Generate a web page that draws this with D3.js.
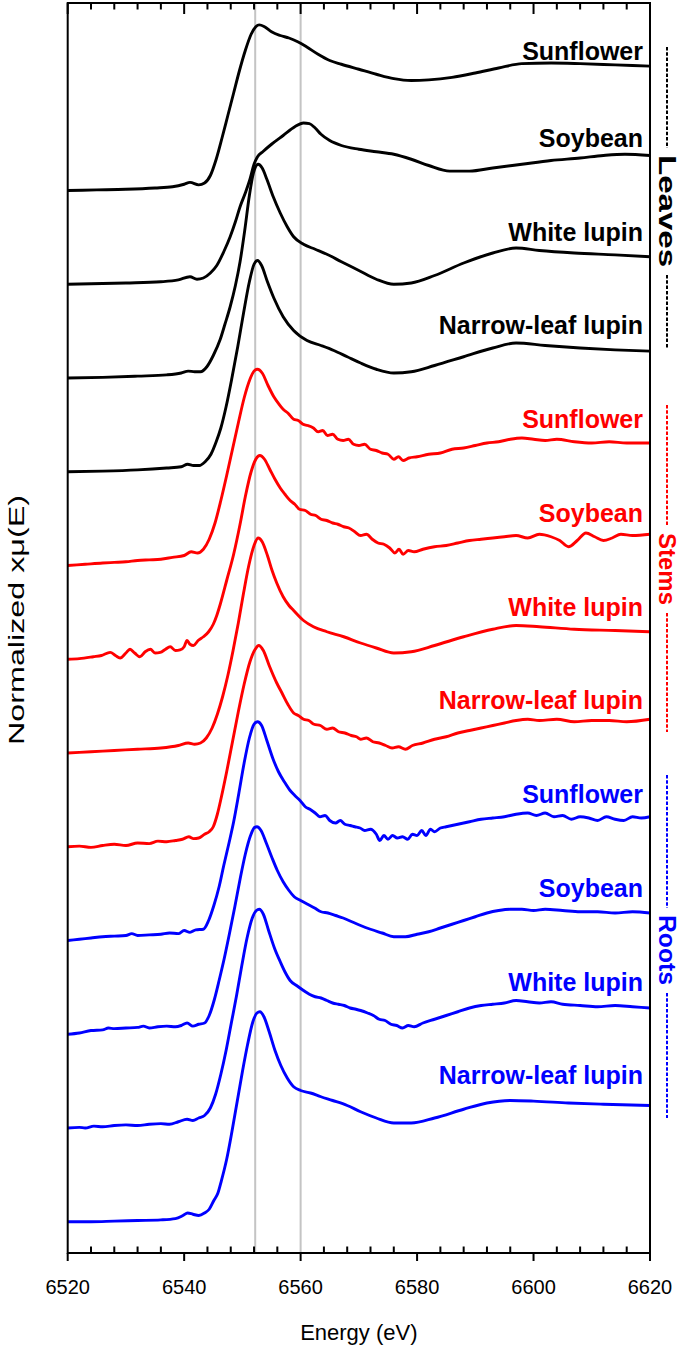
<!DOCTYPE html>
<html><head><meta charset="utf-8">
<script src="https://cdn.jsdelivr.net/npm/d3@7"></script>
<style>body{margin:0;background:#fff}svg{display:block}</style>
</head><body>
<svg id="c" width="681" height="1350"></svg>
<script>
// ---- data ----
const seriesNames = ["Sunflower","Soybean","White lupin","Narrow-leaf lupin",
                     "Sunflower","Soybean","White lupin","Narrow-leaf lupin",
                     "Sunflower","Soybean","White lupin","Narrow-leaf lupin"];
const groupNames = ["Leaves","Stems","Roots"];
const xTickValues = [6520,6540,6560,6580,6600,6620];
const refLines = [6552.2, 6560];

const sunflowerLeaves = [[6520,0],[6525,0.005],[6530,0.01],[6535,0.02],[6538,0.03],[6540,0.05],[6541,0.065],[6542.5,0.045],[6543.5,0.06],[6544.5,0.12],[6545.5,0.25],[6546.5,0.42],[6547.5,0.6],[6548.5,0.78],[6549.5,0.96],[6550.5,1.12],[6551.5,1.25],[6552.3,1.31],[6552.9,1.325],[6553.8,1.31],[6555,1.27],[6556.5,1.24],[6558,1.22],[6559.5,1.19],[6561,1.15],[6563,1.09],[6565,1.04],[6567,1.01],[6570,0.97],[6573,0.93],[6576,0.895],[6579,0.88],[6582,0.885],[6586,0.905],[6590,0.94],[6594,0.98],[6598,1.015],[6603,1.02],[6608,1.015],[6614,1.005],[6620,0.995]];
const soybeanLeaves = [[6520,0],[6530,0.01],[6536,0.02],[6539,0.035],[6541,0.06],[6542.2,0.04],[6543.3,0.05],[6544.5,0.09],[6545.6,0.15],[6546.8,0.26],[6547.9,0.38],[6548.8,0.5],[6549.6,0.62],[6550.5,0.73],[6551.3,0.84],[6552,0.96],[6552.6,1.02],[6553.5,1.06],[6555,1.12],[6557,1.19],[6559,1.26],[6560.5,1.29],[6561.5,1.285],[6562.5,1.25],[6563.5,1.2],[6565,1.15],[6567,1.11],[6570,1.08],[6573,1.06],[6576,1.04],[6579,1.0],[6582,0.95],[6585.6,0.905],[6589,0.905],[6593,0.93],[6598,0.96],[6603,0.99],[6608,1.01],[6612,1.03],[6615.7,1.04],[6620,1.03]];
const whiteLupinLeaves = [[6520,0],[6526,0.005],[6532,0.015],[6537,0.025],[6539.5,0.04],[6540.7,0.055],[6541.8,0.05],[6542.8,0.05],[6543.9,0.09],[6545,0.18],[6546.2,0.31],[6547,0.43],[6547.9,0.57],[6548.8,0.74],[6549.6,0.93],[6550.4,1.18],[6551.2,1.46],[6551.9,1.64],[6552.7,1.71],[6553.4,1.68],[6554.2,1.59],[6555.3,1.45],[6556.5,1.32],[6557.7,1.21],[6558.8,1.13],[6560.5,1.07],[6562.5,1.03],[6564.5,0.99],[6567,0.93],[6570,0.86],[6573,0.79],[6576,0.75],[6579,0.76],[6583,0.82],[6588,0.92],[6593,1.0],[6597,1.04],[6601,1.02],[6607,1.0],[6614,0.985],[6620,0.97]];
const narrowLeaves = [[6520,0],[6526,0.005],[6532,0.015],[6537,0.03],[6539.5,0.04],[6540.6,0.06],[6541.6,0.05],[6542.6,0.05],[6543.6,0.08],[6544.6,0.14],[6545.5,0.24],[6546.3,0.35],[6547.2,0.52],[6548.2,0.75],[6549.2,1.0],[6550.2,1.27],[6551.2,1.52],[6552,1.66],[6552.6,1.69],[6553.3,1.65],[6554.3,1.52],[6555.4,1.39],[6557,1.24],[6558.8,1.13],[6561.1,1.05],[6563.5,1.01],[6565.7,0.97],[6568,0.92],[6570.3,0.87],[6573,0.82],[6576,0.79],[6579,0.8],[6583,0.85],[6588,0.92],[6593,0.99],[6597,1.03],[6602,1.01],[6608,0.99],[6614,0.975],[6620,0.965]];

const sunflowerStems = [[6520,0],[6523,0.01],[6526,0.02],[6528,0.025],[6530,0.03],[6532,0.04],[6534,0.045],[6536,0.05],[6538,0.065],[6540,0.08],[6541.2,0.11],[6542.3,0.1],[6543.3,0.13],[6544.3,0.21],[6545.3,0.34],[6546.3,0.52],[6547.3,0.72],[6548.3,0.93],[6549.3,1.14],[6550.3,1.34],[6551.3,1.49],[6552,1.555],[6552.6,1.57],[6553.4,1.54],[6554.4,1.44],[6555.4,1.35],[6556.3,1.29],[6557,1.25],[6557.8,1.22],[6558.8,1.17],[6559.6,1.16],[6560.4,1.13],[6561.2,1.12],[6562.2,1.1],[6563,1.07],[6563.8,1.08],[6564.6,1.04],[6565.5,1.05],[6566.4,1.01],[6567.3,1.0],[6568.2,1.01],[6569.1,0.97],[6570,0.96],[6571,0.97],[6572,0.93],[6573,0.92],[6574,0.9],[6575,0.89],[6576,0.85],[6576.8,0.87],[6577.6,0.84],[6578.6,0.86],[6580,0.87],[6582,0.89],[6584,0.9],[6586,0.93],[6588,0.94],[6590,0.96],[6592,0.98],[6594,0.99],[6596,1.01],[6598,1.02],[6600,1.01],[6602,1.0],[6604,1.01],[6607,0.99],[6610,0.98],[6613,0.99],[6616,0.98],[6620,0.98]];
const soybeanStems = [[6520,0],[6522,0.005],[6524.4,0.02],[6525.8,0.03],[6527.3,0.055],[6528.2,0.03],[6529,0.01],[6530,0.05],[6530.7,0.08],[6531.5,0.05],[6532.4,0.02],[6533.3,0.06],[6534.2,0.08],[6535,0.05],[6535.9,0.055],[6536.8,0.08],[6537.6,0.1],[6538.5,0.07],[6539.3,0.075],[6540,0.1],[6540.5,0.15],[6541,0.12],[6541.6,0.11],[6542.4,0.15],[6543.3,0.18],[6544.2,0.22],[6545,0.28],[6545.6,0.35],[6546.2,0.44],[6547.3,0.63],[6548.5,0.84],[6549.6,1.08],[6550.5,1.3],[6551.5,1.5],[6552.3,1.6],[6553,1.63],[6553.8,1.6],[6554.7,1.52],[6555.6,1.44],[6556.5,1.37],[6557.3,1.32],[6558.2,1.27],[6559,1.24],[6559.8,1.2],[6560.8,1.19],[6561.7,1.16],[6562.6,1.15],[6563.5,1.12],[6564.5,1.11],[6565.5,1.09],[6566.4,1.08],[6567.4,1.06],[6568.3,1.05],[6569.3,1.02],[6570.3,0.99],[6571.3,1.0],[6572.3,0.96],[6573.3,0.93],[6574.3,0.92],[6575.3,0.89],[6576.2,0.85],[6576.9,0.88],[6577.6,0.84],[6578.5,0.87],[6579.5,0.86],[6581,0.88],[6583,0.9],[6585,0.91],[6587,0.93],[6589,0.95],[6591,0.96],[6593,0.97],[6595,0.98],[6597,0.99],[6599,0.97],[6601,1.0],[6603,0.98],[6604.5,0.95],[6606,0.9],[6607.5,0.95],[6609,1.01],[6610.5,0.98],[6612,0.95],[6613.5,0.97],[6615,1.0],[6617,0.99],[6620,1.0]];
const whiteLupinStems = [[6520,0],[6524,0.01],[6528,0.02],[6532,0.03],[6536,0.04],[6539,0.06],[6540.7,0.08],[6541.8,0.07],[6542.8,0.08],[6543.8,0.12],[6544.8,0.2],[6545.7,0.31],[6546.6,0.45],[6547.5,0.62],[6548.4,0.82],[6549.3,1.04],[6550.2,1.28],[6551.1,1.5],[6552,1.66],[6552.7,1.72],[6553.4,1.69],[6554.3,1.58],[6555.1,1.46],[6555.9,1.36],[6557,1.25],[6558,1.18],[6558.8,1.14],[6560.5,1.06],[6562.2,1.01],[6564.5,0.97],[6567.4,0.93],[6570.3,0.88],[6573,0.84],[6576,0.8],[6579,0.81],[6583,0.86],[6588,0.93],[6593,0.99],[6597,1.02],[6601,1.01],[6607,0.99],[6614,0.98],[6620,0.97]];
const narrowStems = [[6520,0],[6522,0.005],[6524,-0.005],[6526,0.01],[6528,0.02],[6530,0.01],[6532,0.03],[6534,0.025],[6535.5,0.045],[6537,0.04],[6538.5,0.05],[6539.7,0.06],[6540.8,0.08],[6541.6,0.065],[6542.5,0.07],[6543.5,0.1],[6544.3,0.12],[6545,0.16],[6545.7,0.26],[6546.4,0.4],[6547.3,0.6],[6548.3,0.84],[6549.3,1.08],[6550.3,1.3],[6551.3,1.48],[6552.2,1.58],[6552.8,1.61],[6553.6,1.57],[6554.6,1.45],[6555.9,1.31],[6556.8,1.23],[6557.8,1.14],[6558.8,1.07],[6559.6,1.05],[6560.5,1.02],[6561.4,1.01],[6562.3,0.98],[6563.4,0.97],[6564.5,0.94],[6565.5,0.95],[6566.5,0.92],[6567.6,0.91],[6568.7,0.89],[6569.6,0.88],[6570.3,0.86],[6571.3,0.87],[6572.4,0.84],[6573.5,0.83],[6574.6,0.81],[6575.7,0.79],[6576.8,0.8],[6578,0.78],[6579.2,0.81],[6581,0.83],[6583,0.86],[6585,0.88],[6587,0.91],[6589,0.93],[6591,0.95],[6593,0.97],[6595,0.99],[6597,1.01],[6599,1.02],[6601,1.01],[6604,1.02],[6607,1.0],[6610,1.01],[6613,1.01],[6616,1.0],[6620,1.02]];

const sunflowerRoots = [[6520,0],[6522,0.01],[6524,0.02],[6526,0.03],[6528,0.035],[6530,0.04],[6531,0.055],[6532,0.04],[6534,0.045],[6536,0.05],[6537.5,0.06],[6539,0.055],[6540,0.08],[6541,0.065],[6542,0.085],[6543.3,0.09],[6544.2,0.16],[6545.1,0.28],[6546,0.43],[6546.8,0.6],[6547.7,0.78],[6548.5,0.95],[6549.4,1.18],[6550.3,1.42],[6551.2,1.62],[6552,1.73],[6552.6,1.75],[6553.3,1.72],[6554.2,1.6],[6555.2,1.46],[6556.2,1.35],[6557.2,1.27],[6558.2,1.2],[6559,1.16],[6559.9,1.12],[6560.8,1.07],[6561.6,1.05],[6562.5,1.02],[6563.3,0.99],[6564.2,1.0],[6565,0.96],[6566,0.94],[6566.8,0.96],[6567.6,0.93],[6568.5,0.92],[6569.3,0.91],[6570.2,0.9],[6571,0.88],[6572,0.89],[6573,0.85],[6573.6,0.8],[6574.3,0.84],[6575,0.81],[6575.8,0.84],[6576.6,0.82],[6577.5,0.83],[6578.4,0.81],[6579.2,0.85],[6580,0.84],[6580.8,0.88],[6581.5,0.84],[6582.3,0.89],[6583,0.87],[6584,0.9],[6585,0.91],[6587,0.93],[6589,0.95],[6591,0.97],[6593,0.98],[6595,0.99],[6597,1.01],[6599,1.02],[6600.5,1.0],[6602,1.02],[6603.5,0.99],[6605,1.0],[6606.5,0.97],[6608,0.99],[6609.5,0.98],[6611,0.96],[6612.5,0.99],[6614,0.97],[6615.5,0.96],[6617,0.99],[6618.5,0.98],[6620,0.99]];
const soybeanRoots = [[6520,0],[6522,0.01],[6524,0.03],[6526,0.035],[6527,0.05],[6528,0.045],[6530,0.05],[6532,0.055],[6533,0.065],[6534,0.05],[6535.5,0.06],[6537,0.065],[6538.5,0.06],[6539.5,0.07],[6540.5,0.09],[6541.5,0.065],[6542.5,0.08],[6543.5,0.09],[6544.3,0.15],[6545.2,0.28],[6546,0.43],[6546.9,0.61],[6547.8,0.81],[6548.7,1.02],[6549.6,1.24],[6550.5,1.44],[6551.4,1.59],[6552.1,1.655],[6552.5,1.66],[6553.2,1.63],[6554.1,1.53],[6555.1,1.41],[6556,1.31],[6557,1.22],[6558,1.15],[6558.9,1.1],[6560,1.07],[6561.2,1.04],[6562.4,1.01],[6563.5,0.98],[6564.7,0.97],[6566,0.95],[6567.3,0.93],[6568.8,0.9],[6570.3,0.87],[6572,0.84],[6574,0.81],[6576,0.78],[6578,0.78],[6580,0.8],[6582,0.82],[6584,0.85],[6586,0.88],[6588,0.91],[6590,0.94],[6592,0.97],[6594,0.99],[6596,1.0],[6598,1.0],[6600,0.99],[6602,1.0],[6605,0.99],[6608,0.98],[6611,0.98],[6614,0.97],[6617,0.98],[6620,0.97]];
const whiteLupinRoots = [[6520,0],[6522,0.005],[6523,0.0],[6524.5,0.015],[6526,0.01],[6528,0.02],[6530,0.025],[6532,0.02],[6534,0.03],[6536,0.035],[6537.5,0.03],[6539,0.05],[6540.5,0.07],[6541.5,0.06],[6542.5,0.08],[6543.5,0.1],[6544.5,0.16],[6545.4,0.27],[6546.3,0.43],[6547.2,0.62],[6548.1,0.84],[6549,1.06],[6549.9,1.3],[6550.8,1.52],[6551.7,1.68],[6552.4,1.74],[6552.9,1.75],[6553.6,1.71],[6554.5,1.58],[6555.5,1.44],[6556.5,1.33],[6557.3,1.25],[6558.2,1.18],[6559.3,1.14],[6560.5,1.1],[6561.5,1.07],[6562.5,1.05],[6563.5,1.04],[6564.5,1.02],[6565.5,1.0],[6566.5,0.99],[6567.5,0.98],[6568.5,0.96],[6569.5,0.95],[6570.3,0.94],[6571.5,0.92],[6572.5,0.9],[6573.5,0.87],[6574.5,0.86],[6575.5,0.83],[6576.5,0.82],[6577.5,0.8],[6578.5,0.82],[6579.5,0.81],[6581,0.84],[6583,0.87],[6585,0.9],[6587,0.93],[6589,0.96],[6591,0.98],[6593,0.99],[6595,1.0],[6597,1.02],[6599,1.01],[6601,1.0],[6603,1.01],[6605,0.99],[6608,0.98],[6611,0.97],[6614,0.98],[6617,0.97],[6620,0.96]];
const narrowRoots = [[6520,0],[6524,0.0],[6528,0.005],[6532,0.01],[6536,0.015],[6538.5,0.025],[6539.8,0.05],[6540.6,0.07],[6541.5,0.06],[6542.5,0.05],[6543.5,0.07],[6544.3,0.1],[6545.1,0.17],[6545.8,0.23],[6546.4,0.33],[6546.9,0.42],[6547.3,0.5],[6548.2,0.72],[6549.1,0.96],[6550,1.2],[6550.9,1.42],[6551.8,1.6],[6552.5,1.67],[6553,1.68],[6553.7,1.64],[6554.6,1.52],[6555.6,1.37],[6556.6,1.25],[6557.7,1.15],[6558.8,1.08],[6560,1.05],[6561.7,1.03],[6563.5,1.0],[6565.5,0.97],[6568,0.93],[6570.3,0.88],[6573,0.83],[6576,0.79],[6579,0.79],[6583,0.83],[6588,0.9],[6592,0.95],[6596,0.97],[6600,0.965],[6606,0.95],[6612,0.94],[6620,0.93]];

const seriesData = [sunflowerLeaves, soybeanLeaves, whiteLupinLeaves, narrowLeaves,
                    sunflowerStems, soybeanStems, whiteLupinStems, narrowStems,
                    sunflowerRoots, soybeanRoots, whiteLupinRoots, narrowRoots];
const stackStep = 0.75;   // vertical offset between stacked spectra (normalized units)

// ---- layout ----
const svg = d3.select("#c");
const L = 67.7, R = 650, T = 3, B = 1253;
const x = d3.scaleLinear().domain([6520, 6620]).range([L, R]);
const y = d3.scaleLinear().domain([-0.25, 9.75]).range([B, T]);
const groupColors = ["#000000", "#ff0000", "#0000ff"];
const FONT = "'Liberation Sans', Arial, sans-serif";

// reference lines
svg.selectAll("line.ref").data(refLines).enter().append("line")
  .attr("x1", d => x(d)).attr("x2", d => x(d)).attr("y1", T).attr("y2", B)
  .attr("stroke", "#c4c4c4").attr("stroke-width", 2);

// spectra
const line = d3.line().x(d => x(d[0])).y(d => y(d[1])).curve(d3.curveMonotoneX);
seriesData.forEach((s, i) => {
  const off = (11 - i) * stackStep;
  svg.append("path")
    .attr("d", line(s.map(p => [p[0], p[1] + off])))
    .attr("fill", "none")
    .attr("stroke", groupColors[Math.floor(i / 4)])
    .attr("stroke-width", 2.9)
    .attr("stroke-linejoin", "round");
});

// series labels
seriesNames.forEach((n, i) => {
  const off = (11 - i) * stackStep;
  svg.append("text")
    .attr("x", 643).attr("y", y(off + 1.1) + (i === 0 ? 7 : 0))
    .attr("text-anchor", "end")
    .attr("font-family", FONT).attr("font-weight", "bold").attr("font-size", 25)
    .attr("fill", groupColors[Math.floor(i / 4)])
    .text(n);
});

// frame
svg.append("rect").attr("x", L).attr("y", T).attr("width", R - L).attr("height", B - T)
  .attr("fill", "none").attr("stroke", "#000").attr("stroke-width", 2);

// ticks
const majors = d3.range(6520, 6621, 20);
const minors = d3.range(6520, 6621, 4).filter(v => (v - 6520) % 20 !== 0);
const tickG = svg.append("g");
function ticks(vals, yy, len) {
  tickG.selectAll(null).data(vals).enter().append("line")
    .attr("x1", d => x(d)).attr("x2", d => x(d))
    .attr("y1", yy).attr("y2", yy + len)
    .attr("stroke", "#000").attr("stroke-width", 2);
}
ticks(majors, B, 8);
ticks(minors, B, -6.5);
ticks(majors, T, 11);
ticks(minors, T, 6.5);

svg.selectAll("text.tick").data(xTickValues).enter().append("text")
  .attr("x", d => x(d)).attr("y", 1294)
  .attr("text-anchor", "middle").attr("font-family", FONT).attr("font-size", 20)
  .text(d => d);

// axis titles
svg.append("text").attr("x", (L + R) / 2).attr("y", 1340)
  .attr("text-anchor", "middle").attr("font-family", FONT).attr("font-size", 22)
  .text("Energy (eV)");
svg.append("text").attr("transform", "translate(24,620) rotate(-90)")
  .attr("text-anchor", "middle").attr("font-family", FONT).attr("font-size", 22)
  .attr("textLength", 250).attr("lengthAdjust", "spacingAndGlyphs")
  .text("Normalized xμ(E)");

// group brackets
const groupSpans = [[47, 348, 155, 267], [405, 732, 533, 605], [775, 1118, 915, 985]];
groupNames.forEach((g, k) => {
  const [a, b, t0, t1] = groupSpans[k];
  const gx = 667;
  [[a, t0 - 7], [t1 + 8, b]].forEach(([s, e]) => {
    svg.append("line").attr("x1", gx).attr("x2", gx).attr("y1", s).attr("y2", e)
      .attr("stroke", groupColors[k]).attr("stroke-width", 2)
      .attr("stroke-dasharray", "3.5,1.8");
  });
  svg.append("text")
    .attr("transform", `translate(${gx - 8},${(t0 + t1) / 2}) rotate(90)`)
    .attr("text-anchor", "middle")
    .attr("font-family", FONT).attr("font-weight", "bold").attr("font-size", 24)
    .attr("textLength", t1 - t0).attr("lengthAdjust", "spacingAndGlyphs")
    .attr("fill", groupColors[k])
    .text(g);
});
</script>
</body></html>
